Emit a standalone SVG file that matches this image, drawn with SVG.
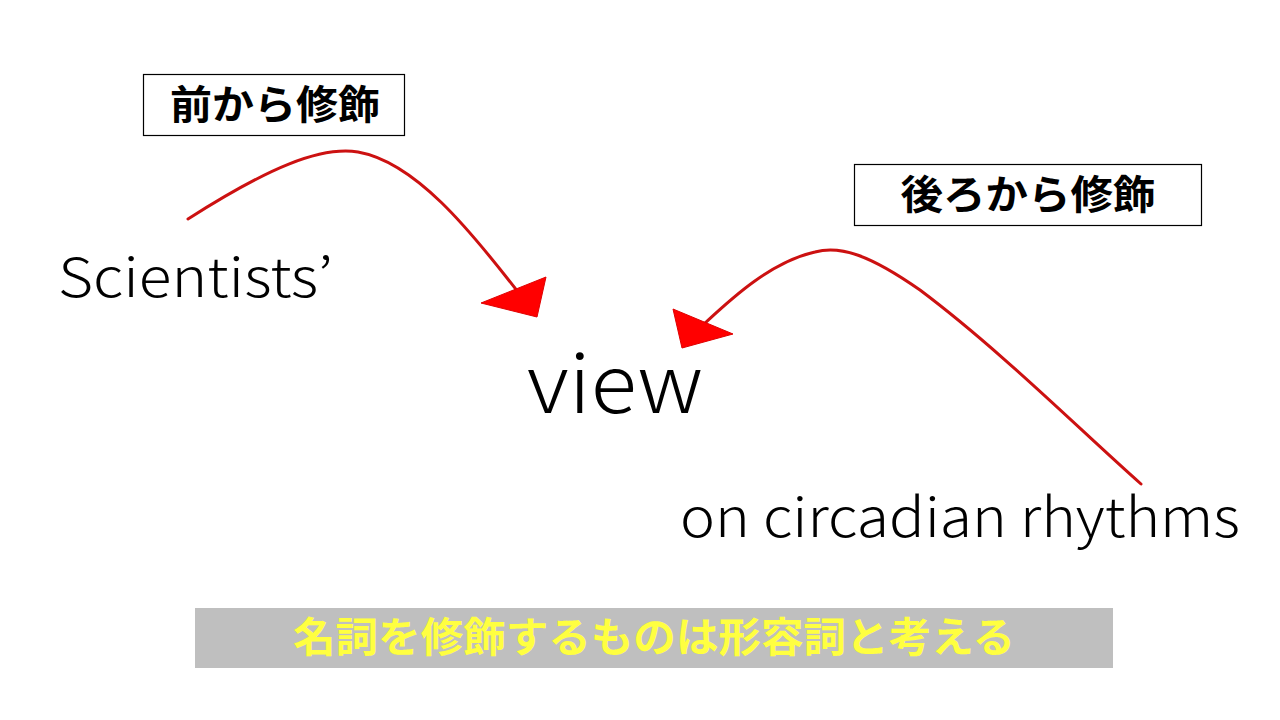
<svg xmlns="http://www.w3.org/2000/svg" width="1280" height="720" viewBox="0 0 1280 720">
<style>
.box{fill:#fff;stroke:#000;stroke-width:1.2}
.lbl{font-family:"Noto Sans CJK JP","Noto Sans",sans-serif;font-weight:700;font-size:40px;fill:#000;text-anchor:middle}
.word{font-family:"Noto Sans CJK JP","Noto Sans",sans-serif;font-weight:300;fill:#000}
.conn{fill:none;stroke:#cc1111;stroke-width:3;stroke-linecap:round}
.head{fill:#ff0000;stroke:#e00000;stroke-width:1}
</style>
<rect width="1280" height="720" fill="#fff"/>
<g id="label-front">
<rect class="box" x="143.5" y="74.5" width="261" height="61"/>
<text class="lbl" x="275" y="119" textLength="210" lengthAdjust="spacingAndGlyphs">前から修飾</text>
</g>
<g id="label-back">
<rect class="box" x="854.5" y="164.5" width="347" height="61"/>
<text class="lbl" x="1028" y="209" textLength="255" lengthAdjust="spacingAndGlyphs">後ろから修飾</text>
</g>
<g id="node-scientists">
<text class="word" x="58" y="297" font-size="54" textLength="275" lengthAdjust="spacingAndGlyphs">Scientists’</text>
</g>
<g id="node-view">
<text class="word" x="527" y="413" font-size="80" textLength="176" lengthAdjust="spacingAndGlyphs">view</text>
</g>
<g id="node-rhythms">
<text class="word" x="680" y="537" font-size="54" textLength="560" lengthAdjust="spacingAndGlyphs">on circadian rhythms</text>
</g>
<g id="connectors">
<path class="conn" d="M188,219 C268,168 320,146 358,152 C415,162 470,230 518,292"/>
<polygon class="head" points="481,303 546,277 537,317"/>
<path class="conn" d="M1141,484 C1080,430 1000,350 920,290 C870,255 840,245 815,252 C770,262 730,300 705,323"/>
<polygon class="head" points="673,309 733,334 682,348"/>
</g>
<g id="note">
<rect x="195" y="608" width="918" height="60" fill="#bfbfbf"/>
<text x="654" y="652" font-family="Noto Sans CJK JP,sans-serif" font-weight="700" font-size="41" fill="#ffff40" text-anchor="middle" textLength="722" lengthAdjust="spacingAndGlyphs">名詞を修飾するものは形容詞と考える</text>
</g>
</svg>
